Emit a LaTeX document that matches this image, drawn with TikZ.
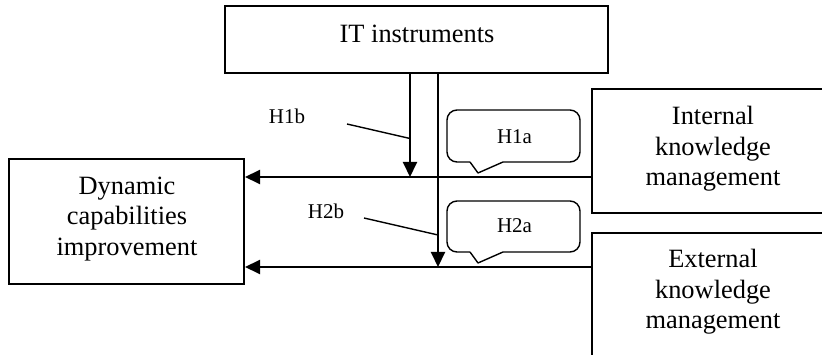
\documentclass[tikz,border=0pt]{standalone}
\usepackage{fontspec}
\setmainfont{Liberation Serif}
\usetikzlibrary{arrows.meta}
\begin{document}
\begin{tikzpicture}[x=1pt,y=-1pt,
  box/.style={draw,rectangle,line width=2pt,inner sep=0pt},
  big/.style={font=\fontsize{26.4}{30.5}\selectfont,align=center,inner sep=0pt},
  small/.style={font=\fontsize{21}{25}\selectfont,inner sep=0pt},
  arr/.style={line width=2pt,-{Triangle[length=15pt,width=14pt]}},
  pointer/.style={line width=1.4pt},
  bubble/.style={line width=1.4pt,line join=round}]
\useasboundingbox (0,0) rectangle (822,355);
\clip (0,0) rectangle (822,355);

% boxes
\node[box,minimum width=383pt,minimum height=67pt] (it) at (416.5,39.5) {};
\node[box,minimum width=235pt,minimum height=125pt] (dyn) at (126.5,221.5) {};
\node[box,minimum width=242pt,minimum height=124pt] (int) at (713,151) {};
\node[box,minimum width=242pt,minimum height=167pt] (ext) at (713,316.5) {};

% box texts
\node[big] (itlabel) at (417,34) {IT instruments};
\node[big] (dynlabel) at (127,219) {Dynamic\\capabilities\\improvement};
\node[big] (intlabel) at (713,149) {Internal\\knowledge\\management};
\node[big] (extlabel) at (713,292) {External\\knowledge\\management};

% connector positions
\coordinate (r1) at (592,177);
\coordinate (r2) at (592,267);
\coordinate (v1) at (410,73);
\coordinate (v2) at (438,73);

% main arrows
\draw[arr] (int.west |- r1) -- (dyn.east |- r1);
\draw[arr] (ext.west |- r2) -- (dyn.east |- r2);
\draw[arr] (it.south -| v1) -- (v1 |- r1);
\draw[arr] (it.south -| v2) -- (v2 |- r2);

% moderating hypotheses
\node[small] (h1b) at (287,116) {H1b};
\node[small] (h2b) at (326,211.5) {H2b};
\coordinate (p1) at (347,124);
\coordinate (q1) at (410,138.5);
\coordinate (p2) at (364,218);
\coordinate (q2) at (438,235);
\draw[pointer] (p1) -- (q1);
\draw[pointer] (p2) -- (q2);

% direct hypotheses in callouts
\draw[bubble,rounded corners=10pt] (503,162) -- (580,162) -- (580,110) -- (447,110) -- (447,162) -- (470,162);
\draw[bubble] (470,162) -- (478,173) -- (503,162);
\node[small] (h1a) at (514.5,136.5) {H1a};

\draw[bubble,rounded corners=10pt] (503,252) -- (580,252) -- (580,201) -- (447,201) -- (447,252) -- (470,252);
\draw[bubble] (470,252) -- (478,263) -- (503,252);
\node[small] (h2a) at (514.5,226) {H2a};
\end{tikzpicture}
\end{document}
